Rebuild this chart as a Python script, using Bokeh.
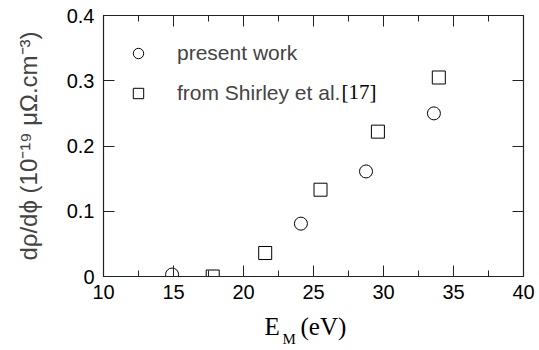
from bokeh.plotting import figure
from bokeh.layouts import column
from bokeh.models import (Range1d, LinearAxis, FixedTicker, Label, Legend, LegendItem,
                          ColumnDataSource)
from bokeh.embed import file_html
from bokeh.resources import INLINE

# Present work
e_present = [14.9, 24.1, 28.75, 33.6]
drho_present = [0.003, 0.081, 0.161, 0.250]

# From Shirley et al. [17]
e_shirley = [17.8, 21.55, 25.5, 29.6, 33.95]
drho_shirley = [0.0, 0.036, 0.133, 0.222, 0.305]

x_ticks = [10, 15, 20, 25, 30, 35, 40]
x_minor = [12.5, 17.5, 22.5, 27.5, 32.5, 37.5]
y_ticks = [0, 0.1, 0.2, 0.3, 0.4]
y_tick_labels = ["0", "0.1", "0.2", "0.3", "0.4"]

SANS = "Liberation Sans"
SERIF = "Liberation Serif"

p = figure(width=539, height=310, output_backend="svg", toolbar_location=None,
           x_range=Range1d(10, 40), y_range=Range1d(0, 0.4),
           x_axis_type=None, y_axis_type=None,
           min_border_left=103, min_border_right=16,
           min_border_top=15, min_border_bottom=34)
p.grid.visible = False
p.outline_line_color = "#222222"
p.outline_line_width = 1.2
p.background_fill_color = "white"
p.border_fill_color = "white"


def style_axis(ax, ticks, minor=None, labels=True):
    ax.ticker = FixedTicker(ticks=ticks, minor_ticks=minor or [])
    ax.major_tick_in = 11
    ax.major_tick_out = 0
    ax.minor_tick_in = 6 if minor else 0
    ax.minor_tick_out = 0
    ax.axis_line_color = "#222222"
    ax.major_tick_line_color = "#222222"
    ax.minor_tick_line_color = "#222222"
    ax.major_tick_line_width = 1
    ax.minor_tick_line_width = 1
    if labels:
        ax.major_label_text_font = SANS
        ax.major_label_text_font_size = "20px"
        ax.major_label_text_color = "black"
    else:
        ax.major_label_overrides = {t: "" for t in ticks}
        ax.major_label_text_color = None
        ax.major_label_standoff = 0


xb = LinearAxis()
style_axis(xb, x_ticks, x_minor)
xb.major_label_standoff = 8
xb.major_label_overrides = {t: str(t) for t in x_ticks}
p.add_layout(xb, "below")

xt = LinearAxis()
style_axis(xt, x_ticks, x_minor, labels=False)
p.add_layout(xt, "above")

yl = LinearAxis()
style_axis(yl, y_ticks)
yl.major_label_standoff = 9
yl.major_label_overrides = dict(zip(y_ticks, y_tick_labels))
yl.axis_label = "dρ/dϕ (10⁻¹⁹ μΩ.cm⁻³)"
yl.axis_label_text_font = SANS
yl.axis_label_text_font_size = "24px"
yl.axis_label_text_font_style = "normal"
yl.axis_label_standoff = 22
p.add_layout(yl, "left")

yr = LinearAxis()
style_axis(yr, y_ticks, labels=False)
p.add_layout(yr, "right")

src_p = ColumnDataSource(dict(x=e_present, y=drho_present))
src_s = ColumnDataSource(dict(x=e_shirley, y=drho_shirley))
r_p = p.scatter("x", "y", source=src_p, marker="circle", size=13,
                fill_color="white", line_color="black", line_width=1)
r_s = p.scatter("x", "y", source=src_s, marker="square", size=13,
                fill_color="white", line_color="black", line_width=1)

legend = Legend(items=[LegendItem(label="present work", renderers=[r_p]),
                       LegendItem(label="from Shirley et al.", renderers=[r_s])],
                location=(22, 170), orientation="vertical",
                background_fill_alpha=0, border_line_alpha=0,
                label_text_font=SANS, label_text_font_size="21px",
                glyph_width=26, glyph_height=26, spacing=14, label_standoff=26,
                padding=0, margin=0)
p.add_layout(legend)

p.add_layout(Label(x=238, y=185, x_units="screen", y_units="screen",
                   text="[17]", text_font=SERIF, text_font_size="21px",
                   text_color="black", text_baseline="middle"))

# strip under the plot carrying the x axis title E_M (eV);
# its frame lines up with the main plot's frame
cap = figure(width=539, height=40, output_backend="svg", toolbar_location=None,
             x_range=Range1d(0, 539), y_range=Range1d(0, 40),
             x_axis_type=None, y_axis_type=None, min_border=0)
cap.grid.visible = False
cap.outline_line_color = None
cap.background_fill_color = "white"
cap.border_fill_color = "white"
cap.add_layout(Label(x=161, y=24, x_units="screen", y_units="screen",
                     text="E", text_font=SERIF, text_font_size="25px",
                     text_color="black", text_baseline="alphabetic"))
cap.add_layout(Label(x=179, y=12, x_units="screen", y_units="screen",
                     text="M", text_font=SERIF, text_font_size="15px",
                     text_color="black", text_baseline="alphabetic"))
cap.add_layout(Label(x=197, y=24, x_units="screen", y_units="screen",
                     text="(eV)", text_font=SERIF, text_font_size="25px",
                     text_color="black", text_baseline="alphabetic"))

layout = column(p, cap, spacing=0)
open("out.html", "w").write(file_html(layout, INLINE))
